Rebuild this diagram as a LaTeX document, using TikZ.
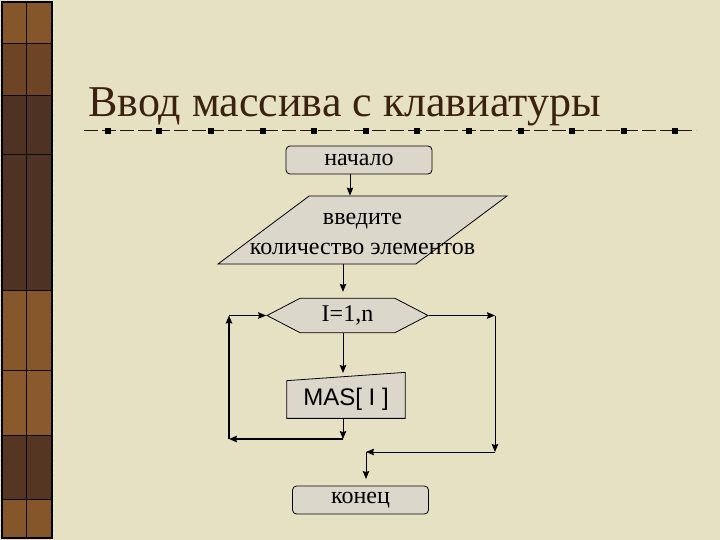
\documentclass[tikz,border=0pt]{standalone}
\usepackage{fontspec}
\setmainfont{Liberation Serif}
\newfontfamily\arialfont{Liberation Sans}
\usetikzlibrary{arrows.meta,shapes.geometric,shapes.symbols,backgrounds}

\definecolor{slidebg}{HTML}{E7E1C4}
\definecolor{boxfill}{HTML}{DCD7CB}
\definecolor{titlebrown}{HTML}{3B2210}
\definecolor{woodA}{HTML}{6E4524}
\definecolor{woodB}{HTML}{4E3222}
\definecolor{woodC}{HTML}{8A5A2C}

\tikzset{
    >={Stealth[length=8pt, width=6.5pt, inset=1pt]} % Default arrow tip
}
\tikzstyle{terminal}=[
    draw,
    line width = 0.8pt,
    rounded corners = 4pt,
    fill = boxfill,
    inner sep = 0pt,
    minimum height = 28pt,
    font = \fontsize{24}{30}\selectfont
]
\tikzstyle{io}=[
    draw,
    line width = 0.8pt,
    trapezium,
    trapezium left angle = 49.5,
    trapezium right angle = 130.5,
    trapezium stretches = true,
    fill = boxfill,
    inner sep = 2pt,
    minimum width = 289pt,
    minimum height = 68pt
]
\tikzstyle{iotext}=[
    align = center,
    inner sep = 0pt,
    font = \fontsize{24}{30}\selectfont
]
\tikzstyle{loophead}=[
    draw,
    line width = 0.8pt,
    signal,
    signal to = east and west,
    signal pointer angle = 55,
    fill = boxfill,
    inner sep = 0pt,
    minimum width = 161pt,
    minimum height = 34.5pt,
    font = \fontsize{24}{30}\selectfont
]
\tikzstyle{manual}=[
    inner sep = 0pt,
    minimum width = 118pt,
    minimum height = 37.3pt,
    font = \arialfont\fontsize{24}{30}\selectfont
]
\tikzstyle{flow}=[
    ->,
    line width = 1pt
]

\begin{document}
\begin{tikzpicture}[x=1pt, y=-1pt]
    \useasboundingbox (0,0) rectangle (720,540);

    % slide and wooden strip
    \begin{scope}[on background layer]
        \fill[slidebg] (0,0) rectangle (720,540);
        \fill[woodA] (2,2) rectangle (52,538);
        \fill[woodB] (2,95) rectangle (52,290);
        \fill[woodB!80!woodA] (2,435) rectangle (52,499);
        \fill[woodC!85!woodA] (2,290) rectangle (52,370);
        \fill[woodC] (2,370) rectangle (52,435);
        \fill[woodC!80!woodA] (2,2) rectangle (52,43);
        \fill[woodC!80!woodA] (2,499) rectangle (52,538);
        \draw[black, line width=1.2pt] (2,2) rectangle (52,538);
        \draw[black!85!woodB, line width=0.8pt] (26,2) -- (26,538);
        \foreach \y in {43,95,154,290,370,435,499}
            \draw[black!85!woodB, line width=0.8pt] (2,\y) -- (52,\y);
        \draw[slidebg!60!white, dash pattern=on 2pt off 3pt, line width=1pt] (0.5,2) -- (0.5,538);
        \draw[slidebg!60!white, dash pattern=on 2pt off 3pt, line width=1pt] (53.5,2) -- (53.5,538);
    \end{scope}

    % title
    \node[anchor=base west, inner sep=0pt, text=titlebrown, font=\fontsize{44}{50}\selectfont]
        (title) at (88,117) {Ввод массива с клавиатуры};
    \draw[titlebrown!60!black, dash pattern=on 14pt off 4pt, line width=1pt] (84,131) -- (696,131);
    \foreach \i in {0,...,11}
        \fill[black] (104.8+51.6*\i,128) rectangle ++(6,6);

    % flowchart
    \node[terminal, minimum width=146pt] (start) at (359,160) {начало};
    \node[io] (input) at (362.5,230) {};
    \node[iotext] (inputtext) at (362.5,234) {введите\\количество элементов};
    \node[loophead] (loop) at (347.5,315.5) {I=1,n};
    \node[manual] (body) at (346,399.5) {MAS[ I ]};
    \node[terminal, minimum width=136pt] (stop) at (360.5,500) {конец};

    \begin{scope}[on background layer]
        \draw[fill=boxfill, line width=0.8pt] (body.south west) -- (body.north west)
            -- ([yshift=8.3pt]body.north east) -- (body.south east) -- cycle;
    \end{scope}

    \coordinate (startout) at ([xshift=-9pt]start.south);
    \coordinate (loopin) at ([xshift=-4.5pt,yshift=6pt]loop.north);
    \coordinate (loopout) at ([xshift=-4.5pt]loop.south);
    \coordinate (bodyin) at (343,373);
    \coordinate (bodyout) at ([xshift=-3pt]body.south);
    \coordinate (backdown) at (343,439);
    \coordinate (backleft) at (229,439);
    \coordinate (backup) at (229,315.5);
    \coordinate (exitright) at (495,315.5);
    \coordinate (exitdown) at (495,452);
    \coordinate (exitleft) at (366,452);
    \coordinate (stopin) at (366,479);

    \draw[flow] (startout) -- (startout |- input.north);
    \draw[flow] (loopin |- input.south) -- (loopin);
    \draw[flow] (loopout) -- (bodyin);
    \draw[flow] (bodyout) -- (backdown);
    \draw[flow, line width=1.6pt] (backdown) -- (backleft);
    \draw[flow, line width=1.6pt] (backleft) -- (backup);
    \draw[flow] (backup) -- (loop.west);
    \draw[flow] (loop.east) -- (exitright);
    \draw[flow] (exitright) -- (exitdown);
    \draw[flow] (exitdown) -- (exitleft);
    \draw[flow] (exitleft) -- (stopin);
\end{tikzpicture}
\end{document}
